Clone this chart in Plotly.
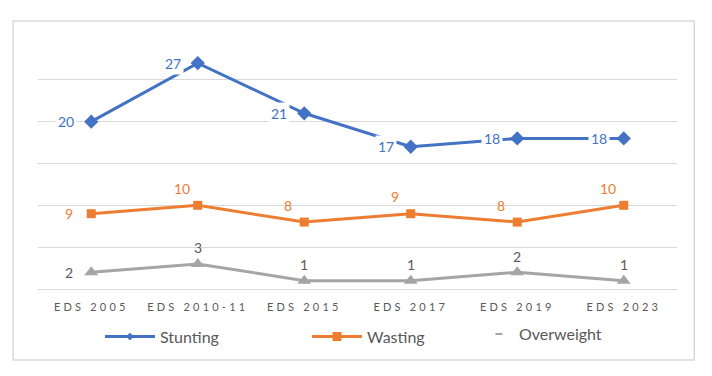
import plotly.graph_objects as go

categories = ["EDS 2005", "EDS 2010-11", "EDS 2015", "EDS 2017", "EDS 2019", "EDS 2023"]
stunting = [20, 27, 21, 17, 18, 18]
wasting = [9, 10, 8, 9, 8, 10]
overweight = [2, 3, 1, 1, 2, 1]

C_ST = "#4472C4"
C_WA = "#ED7D31"
C_OW = "#A5A5A5"
TXT = "#595959"
FONT = "Lato, Open Sans, sans-serif"

fig = go.Figure()
fig.add_trace(go.Scatter(x=categories, y=stunting, name="Stunting", mode="lines+markers",
                         line=dict(color=C_ST, width=3), marker=dict(symbol="diamond", size=11, color=C_ST),
                         showlegend=False))
fig.add_trace(go.Scatter(x=categories, y=wasting, name="Wasting", mode="lines+markers",
                         line=dict(color=C_WA, width=3), marker=dict(symbol="square", size=9, color=C_WA),
                         showlegend=False))
fig.add_trace(go.Scatter(x=categories, y=overweight, name="Overweight", mode="lines+markers",
                         line=dict(color=C_OW, width=3), marker=dict(symbol="triangle-up", size=12, color=C_OW),
                         showlegend=False))
# legend entries
fig.add_trace(go.Scatter(x=[None], y=[None], name="Stunting", mode="lines+markers",
                         line=dict(color=C_ST, width=3), marker=dict(symbol="diamond", size=6, color=C_ST),
                         legend="legend"))
fig.add_trace(go.Scatter(x=[None], y=[None], name="Wasting", mode="lines+markers",
                         line=dict(color=C_WA, width=3), marker=dict(symbol="square", size=9, color=C_WA),
                         legend="legend"))
fig.add_trace(go.Scatter(x=[None], y=[None], name="Overweight", mode="markers",
                         marker=dict(symbol="line-ew", size=5, color=C_OW, line=dict(color=C_OW, width=2)),
                         legend="legend2"))

ann = []
for c, v in zip(categories, stunting):
    ann.append(dict(x=c, y=v, text=str(v), showarrow=False, xshift=-25, yshift=0,
                    font=dict(color=C_ST, size=14, family=FONT), bgcolor="white", borderpad=2))
for i, (c, v) in enumerate(zip(categories, wasting)):
    if i == 0:
        xs, ys = -22, 0
    else:
        xs, ys = -16, 17
    ann.append(dict(x=c, y=v, text=str(v), showarrow=False, xshift=xs, yshift=ys,
                    font=dict(color=C_WA, size=14, family=FONT)))
for i, (c, v) in enumerate(zip(categories, overweight)):
    if i == 0:
        xs, ys = -22, 0
    else:
        xs, ys = 0, 16
    ann.append(dict(x=c, y=v, text=str(v), showarrow=False, xshift=xs, yshift=ys,
                    font=dict(color=TXT, size=14, family=FONT)))

fig.update_layout(
    width=704, height=368,
    margin=dict(l=30, r=35, t=30, b=87, autoexpand=False),
    paper_bgcolor="white", plot_bgcolor="white",
    font=dict(family=FONT, color=TXT),
    annotations=ann,
    xaxis=dict(type="category", range=[-0.5, 5.5], showgrid=False, showline=False,
               ticks="", tickmode="array", tickvals=categories,
               ticktext=['<span style="letter-spacing:3.2px">%s</span>' % c for c in categories],
               tickfont=dict(size=11, color=TXT, family=FONT), ticklabelstandoff=10),
    yaxis=dict(range=[0, 30], dtick=5, showticklabels=False, showgrid=True, gridcolor="#D9D9D9",
               gridwidth=1, zeroline=True, zerolinecolor="#D9D9D9", zerolinewidth=1, showline=False),
    legend=dict(orientation="h", x=0.097, y=-0.19, xanchor="left", yanchor="middle",
                entrywidth=142, entrywidthmode="pixels", itemwidth=50,
                font=dict(size=16, color=TXT, family=FONT), bgcolor="rgba(0,0,0,0)"),
    legend2=dict(orientation="h", x=0.69, y=-0.18, xanchor="left", yanchor="middle",
                 itemwidth=30, font=dict(size=16, color=TXT, family=FONT), bgcolor="rgba(0,0,0,0)"),
    shapes=[dict(type="rect", xref="paper", yref="paper", x0=-0.039, x1=1.027, y0=-0.283, y1=1.068,
                 line=dict(color="#D9D9D9", width=1.5), fillcolor="rgba(0,0,0,0)", layer="below")],
)

fig.write_html("out.html")
